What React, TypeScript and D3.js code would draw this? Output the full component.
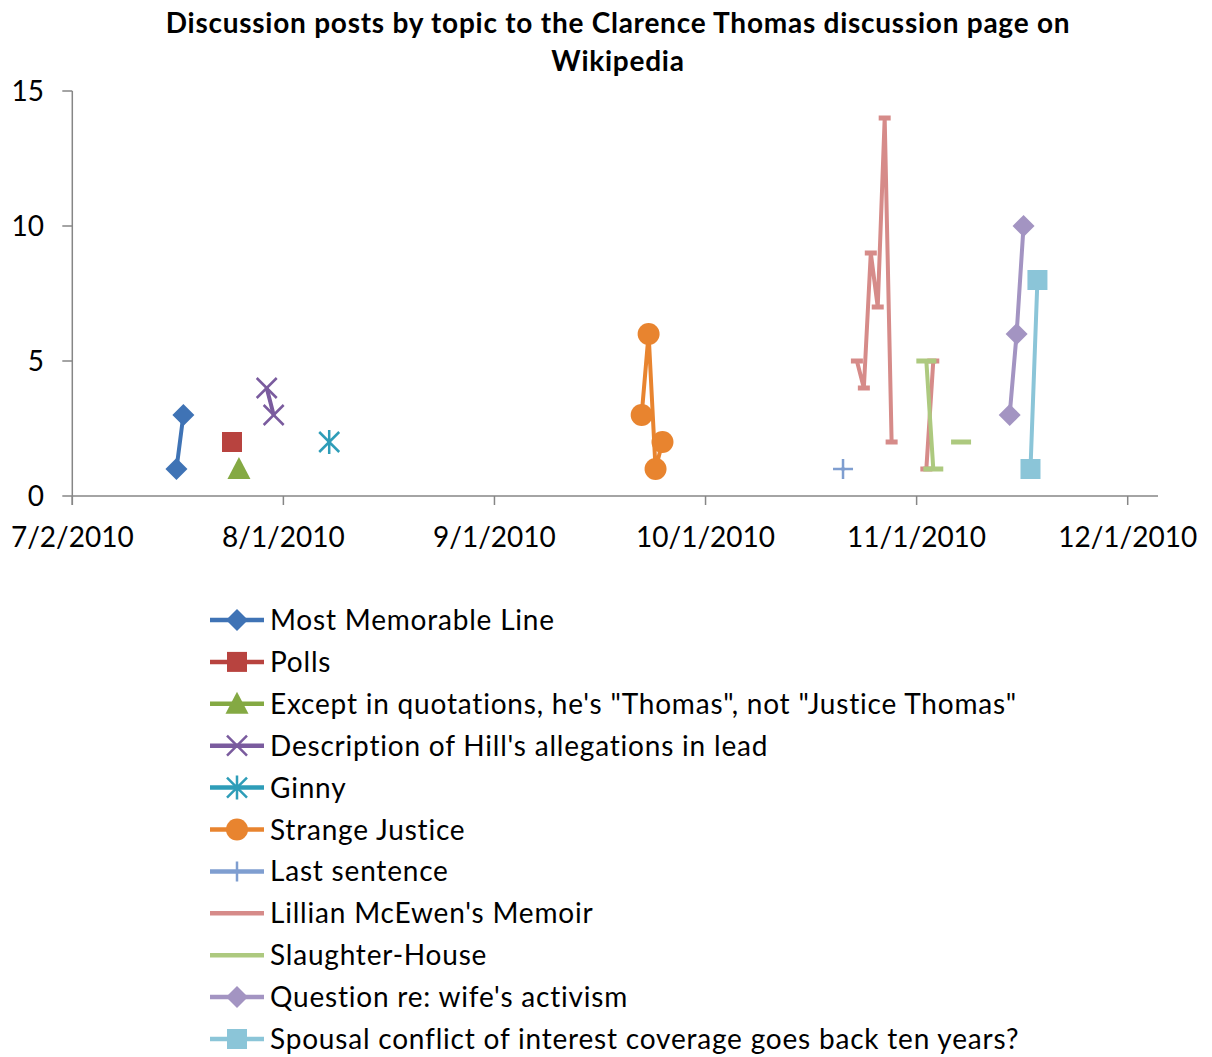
import React from 'react';
import * as d3 from 'd3';

type Pt = [string, number | null];

// posts per day, null = no posts (breaks the line)
const mostMemorable: Pt[] = [['2010-07-17', 1], ['2010-07-18', 3]];
const polls: Pt[] = [['2010-07-25', 2]];
const exceptQuotations: Pt[] = [['2010-07-26', 1]];
const hillAllegations: Pt[] = [['2010-07-30', 4], ['2010-07-31', 3]];
const ginny: Pt[] = [['2010-08-08', 2]];
const strangeJustice: Pt[] = [['2010-09-22', 3], ['2010-09-23', 6], ['2010-09-24', 1], ['2010-09-25', 2]];
const lastSentence: Pt[] = [['2010-10-21', 1]];
const lillianMemoir: Pt[] = [
  ['2010-10-23', 5], ['2010-10-24', 4], ['2010-10-25', 9], ['2010-10-26', 7],
  ['2010-10-27', 14], ['2010-10-28', 2], ['2010-10-29', null], ['2010-11-02', 1], ['2010-11-03', 5],
];
const slaughterHouse: Pt[] = [['2010-11-02', 5], ['2010-11-03', 1], ['2010-11-04', null], ['2010-11-07', 2]];
const wifeActivism: Pt[] = [['2010-11-14', 3], ['2010-11-15', 6], ['2010-11-16', 10]];
const spousalConflict: Pt[] = [['2010-11-17', 1], ['2010-11-18', 8]];

const xTickLabels = ['7/2/2010', '8/1/2010', '9/1/2010', '10/1/2010', '11/1/2010', '12/1/2010'];
const yTicks = [0, 5, 10, 15];

type Marker = 'diamond' | 'square' | 'triangle' | 'x' | 'asterisk' | 'circle' | 'plus' | 'dash' | 'dashWide';

const series: { name: string; data: Pt[]; color: string; marker: Marker; legendMarker: boolean }[] = [
  { name: 'Most Memorable Line', data: mostMemorable, color: '#3F73B5', marker: 'diamond', legendMarker: true },
  { name: 'Polls', data: polls, color: '#B8433F', marker: 'square', legendMarker: true },
  { name: 'Except in quotations, he\'s "Thomas", not "Justice Thomas"', data: exceptQuotations, color: '#84A943', marker: 'triangle', legendMarker: true },
  { name: "Description of Hill's allegations in lead", data: hillAllegations, color: '#7A5B9E', marker: 'x', legendMarker: true },
  { name: 'Ginny', data: ginny, color: '#2E9DB8', marker: 'asterisk', legendMarker: true },
  { name: 'Strange Justice', data: strangeJustice, color: '#E8842F', marker: 'circle', legendMarker: true },
  { name: 'Last sentence', data: lastSentence, color: '#7F9ED0', marker: 'plus', legendMarker: true },
  { name: "Lillian McEwen's Memoir", data: lillianMemoir, color: '#D68B89', marker: 'dash', legendMarker: false },
  { name: 'Slaughter-House', data: slaughterHouse, color: '#ADC97F', marker: 'dashWide', legendMarker: false },
  { name: "Question re: wife's activism", data: wifeActivism, color: '#A394C2', marker: 'diamond', legendMarker: true },
  { name: 'Spousal conflict of interest coverage goes back ten years?', data: spousalConflict, color: '#8BC5D8', marker: 'square', legendMarker: true },
];

const font = 'Lato, "Open Sans", sans-serif';
const parse = d3.utcParse('%Y-%m-%d');

function MarkerShape({ type, cx, cy, color }: { type: Marker; cx: number; cy: number; color: string }) {
  const t = `translate(${cx},${cy})`;
  switch (type) {
    case 'diamond':
      return <path transform={t} d="M0,-11L11,0L0,11L-11,0Z" fill={color} />;
    case 'square':
      return <rect transform={t} x={-10} y={-10} width={20} height={20} fill={color} />;
    case 'triangle':
      return <path transform={t} d="M0,-12L11.5,10L-11.5,10Z" fill={color} />;
    case 'circle':
      return <circle cx={cx} cy={cy} r={11} fill={color} />;
    case 'x':
      return <path transform={t} d="M-10,-10L10,10M10,-10L-10,10" stroke={color} strokeWidth={2.5} />;
    case 'asterisk':
      return <path transform={t} d="M-10,-10L10,10M10,-10L-10,10M0,-12L0,12" stroke={color} strokeWidth={2.5} />;
    case 'plus':
      return <path transform={t} d="M-10,0L10,0M0,-10L0,10" stroke={color} strokeWidth={2.5} />;
    case 'dash':
      return <rect transform={t} x={-6} y={-2.5} width={12} height={5} fill={color} />;
    case 'dashWide':
      return <rect transform={t} x={-10} y={-2.5} width={20} height={5} fill={color} />;
  }
}

export default function App() {
  const width = 1212;
  const height = 1057;
  const t0 = parse('2010-07-02')!;
  const t1 = parse('2010-12-01')!;
  const x = d3.scaleUtc().domain([t0, t1]).range([72.3, 1127.7]);
  const y = d3.scaleLinear().domain([0, 15]).range([496, 91]);

  // Excel splits the date axis into equal steps between min and max
  const step = (t1.getTime() - t0.getTime()) / (xTickLabels.length - 1);
  const xTicks = xTickLabels.map((label, i) => ({ label, pos: x(new Date(t0.getTime() + i * step)) }));

  const line = d3
    .line<Pt>()
    .defined((d) => d[1] != null)
    .x((d) => x(parse(d[0])!))
    .y((d) => y(d[1] as number));

  const axisColor = '#868686';

  return (
    <svg width={width} height={height} style={{ position: 'absolute', left: 0, top: 0, background: '#fff' }} fontFamily={font}>
      <text x={618} y={33} textAnchor="middle" fontSize={28} fontWeight="bold" letterSpacing={0.75}>
        Discussion posts by topic to the Clarence Thomas discussion page on
      </text>
      <text x={618} y={71} textAnchor="middle" fontSize={28} fontWeight="bold" letterSpacing={0.75}>
        Wikipedia
      </text>

      {/* axes */}
      <line x1={x.range()[0]} x2={1158} y1={y(0)} y2={y(0)} stroke={axisColor} strokeWidth={1.5} />
      <line x1={x.range()[0]} x2={x.range()[0]} y1={y(15)} y2={y(0) + 9} stroke={axisColor} strokeWidth={1.5} />
      {yTicks.map((v) => (
        <g key={v}>
          <line x1={x.range()[0] - 10} x2={x.range()[0]} y1={y(v)} y2={y(v)} stroke={axisColor} strokeWidth={1.5} />
          <text x={44} y={y(v) + 10} textAnchor="end" fontSize={28}>
            {v}
          </text>
        </g>
      ))}
      {xTicks.map((tk) => (
        <g key={tk.label}>
          <line x1={tk.pos} x2={tk.pos} y1={y(0)} y2={y(0) + 9} stroke={axisColor} strokeWidth={1.5} />
          <text x={tk.pos} y={547} textAnchor="middle" fontSize={28}>
            {tk.label}
          </text>
        </g>
      ))}

      {/* series */}
      {series.map((s) => (
        <g key={s.name}>
          <path d={line(s.data) ?? ''} fill="none" stroke={s.color} strokeWidth={4} strokeLinejoin="round" strokeLinecap="round" />
          {s.data
            .filter((d) => d[1] != null)
            .map((d) => (
              <MarkerShape key={d[0]} type={s.marker} cx={x(parse(d[0])!)} cy={y(d[1] as number)} color={s.color} />
            ))}
        </g>
      ))}

      {/* legend */}
      {series.map((s, i) => {
        const ly = 620 + i * 41.9;
        return (
          <g key={'lg' + s.name}>
            <line x1={210} x2={264} y1={ly} y2={ly} stroke={s.color} strokeWidth={4.5} />
            {s.legendMarker && <MarkerShape type={s.marker} cx={237} cy={ly} color={s.color} />}
            <text x={270} y={ly + 10} fontSize={28} letterSpacing={0.8}>
              {s.name}
            </text>
          </g>
        );
      })}
    </svg>
  );
}
